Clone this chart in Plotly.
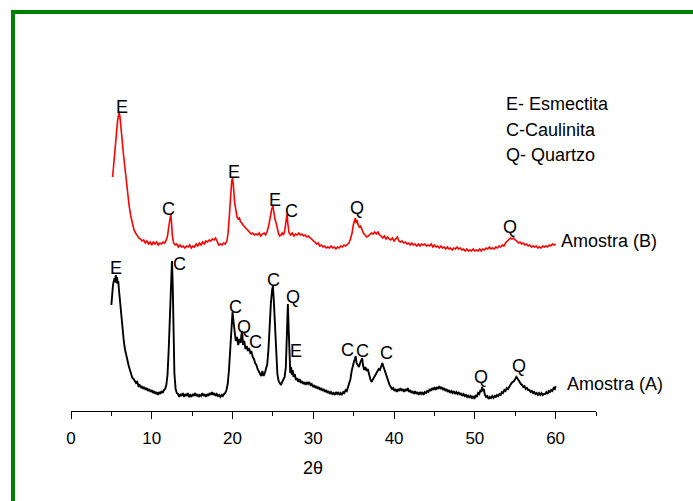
import plotly.graph_objects as go

# ---- data: 2-theta (deg) and relative intensity (arbitrary units, offset per sample) ----
amostra_a_points = [
    (5.0,104),(5.1,116),(5.2,124),(5.3,128),(5.4,131),(5.47,127),(5.55,134),(5.62,126),(5.7,132),(5.78,125),
    (5.85,128),(5.95,118),(6.1,104),(6.25,90),(6.4,77),(6.55,67),(6.7,59),(6.85,53),(7.0,47),(7.15,43),
    (7.3,39),(7.45,35),(7.6,31),(7.75,30),(7.9,27),(8.05,26),(8.2,27),(8.35,23),(8.5,24),(8.65,21),
    (8.8,23),(8.95,20),(9.1,22),(9.25,19),(9.4,21),(9.55,18),(9.7,20),(9.85,17),(10.0,19),(10.15,16),
    (10.3,18),(10.45,15),(10.6,17),(10.75,14),(10.9,17),(11.05,15),(11.2,18),(11.35,16),(11.5,19),(11.65,20),
    (11.8,24),(11.95,34),(12.1,60),(12.25,102),(12.4,140),(12.5,148),(12.6,122),(12.7,72),(12.8,36),(12.95,20),
    (13.1,16),(13.25,15),(13.4,12),(13.55,15),(13.7,13),(13.85,16),(14.0,12),(14.15,15),(14.3,13),(14.45,16),
    (14.6,12),(14.75,14),(14.9,12),(15.05,15),(15.2,13),(15.35,16),(15.5,13),(15.65,15),(15.8,12),(15.95,14),
    (16.1,13),(16.25,16),(16.4,13),(16.55,15),(16.7,12),(16.85,15),(17.0,13),(17.15,16),(17.3,14),(17.45,17),
    (17.6,14),(17.75,16),(17.9,13),(18.05,15),(18.2,13),(18.35,14),(18.5,12),(18.65,14),(18.8,13),(18.95,15),
    (19.1,16),(19.25,19),(19.4,25),(19.55,38),(19.7,60),(19.85,85),(20.0,97),(20.1,89),(20.25,75),(20.4,68),
    (20.55,72),(20.7,64),(20.85,70),(21.0,66),(21.1,74),(21.2,78),(21.3,64),(21.45,68),(21.6,60),(21.75,63),
    (21.9,58),(22.05,61),(22.2,56),(22.35,57),(22.5,52),(22.65,50),(22.8,46),(22.95,44),(23.1,40),(23.25,38),
    (23.4,36),(23.55,33),(23.7,38),(23.85,33),(24.0,36),(24.15,40),(24.3,45),(24.45,60),(24.6,85),(24.75,106),
    (24.9,119),(25.0,123),(25.1,110),(25.25,80),(25.4,50),(25.55,35),(25.7,28),(25.85,25),(26.0,24),(26.15,27),
    (26.3,30),(26.45,32),(26.6,42),(26.75,78),(26.85,105),(26.95,80),(27.05,40),(27.15,36),(27.25,42),(27.35,34),
    (27.45,39),(27.55,32),(27.7,35),(27.85,29),(28.0,31),(28.15,27),(28.3,30),(28.45,26),(28.6,28),(28.75,25),
    (28.9,27),(29.05,24),(29.2,27),(29.35,25),(29.5,27),(29.65,24),(29.8,25),(29.95,22),(30.1,24),(30.25,21),
    (30.4,23),(30.55,20),(30.7,22),(30.85,19),(31.0,21),(31.15,18),(31.3,20),(31.45,17),(31.6,19),(31.75,16),
    (31.9,18),(32.05,15),(32.2,17),(32.35,15),(32.5,16),(32.65,14),(32.8,17),(32.95,15),(33.1,17),(33.25,14),
    (33.4,16),(33.55,14),(33.7,17),(33.85,16),(34.0,19),(34.15,18),(34.3,22),(34.45,25),(34.6,30),(34.75,38),
    (34.9,45),(35.05,48),(35.15,50),(35.25,53),(35.35,46),(35.5,44),(35.65,42),(35.8,46),(35.95,50),(36.05,51),
    (36.15,44),(36.3,39),(36.45,42),(36.6,38),(36.75,40),(36.9,34),(37.05,30),(37.2,27),(37.35,29),(37.5,32),
    (37.65,34),(37.8,36),(37.95,38),(38.1,40),(38.25,39),(38.4,44),(38.55,46),(38.7,42),(38.85,38),(39.0,34),
    (39.15,30),(39.3,28),(39.45,24),(39.6,22),(39.75,20),(39.9,21),(40.05,18),(40.2,20),(40.35,17),(40.5,20),
    (40.65,18),(40.8,21),(40.95,18),(41.1,20),(41.25,17),(41.4,20),(41.55,18),(41.7,21),(41.85,17),(42.0,19),
    (42.15,16),(42.3,18),(42.45,15),(42.6,18),(42.75,15),(42.9,17),(43.05,14),(43.2,17),(43.35,15),(43.5,17),
    (43.65,14),(43.8,17),(43.95,16),(44.1,18),(44.25,17),(44.4,20),(44.55,18),(44.7,21),(44.85,19),(45.0,22),
    (45.15,19),(45.3,22),(45.45,20),(45.6,23),(45.75,20),(45.9,22),(46.05,19),(46.2,21),(46.35,18),(46.5,20),
    (46.65,17),(46.8,19),(46.95,16),(47.1,18),(47.25,16),(47.4,18),(47.55,15),(47.7,17),(47.85,15),(48.0,17),
    (48.15,14),(48.3,16),(48.45,13),(48.6,15),(48.75,13),(48.9,14),(49.05,12),(49.2,14),(49.35,11),(49.5,13),
    (49.65,11),(49.8,13),(49.95,10),(50.1,14),(50.25,12),(50.4,16),(50.55,15),(50.7,19),(50.8,17),(50.9,22),
    (51.0,18),(51.1,20),(51.25,14),(51.4,12),(51.55,13),(51.7,10),(51.85,12),(52.0,11),(52.15,13),(52.3,11),
    (52.45,13),(52.6,12),(52.75,14),(52.9,13),(53.05,15),(53.2,14),(53.35,17),(53.5,16),(53.65,19),(53.8,18),
    (53.95,21),(54.1,20),(54.25,23),(54.4,24),(54.55,26),(54.7,27),(54.85,28),(55.0,30),(55.15,32),(55.25,31),
    (55.4,28),(55.55,27),(55.7,25),(55.85,24),(56.0,22),(56.15,23),(56.3,20),(56.45,21),(56.6,19),(56.75,19),
    (56.9,17),(57.05,18),(57.2,16),(57.35,17),(57.5,15),(57.65,16),(57.8,14),(57.95,16),(58.1,14),(58.25,16),
    (58.4,14),(58.55,15),(58.7,15),(58.85,17),(59.0,15),(59.15,18),(59.3,17),(59.45,19),(59.6,18),(59.75,21),
    (59.9,20),(60.0,23),
]

amostra_b_points = [
    (5.15,232),(5.3,247),(5.45,262),(5.6,276),(5.75,287),(5.85,292),(5.95,296),(6.05,293),(6.15,286),(6.3,272),
    (6.45,258),(6.6,246),(6.75,233),(6.9,222),(7.05,212),(7.2,203),(7.4,193),(7.6,185),(7.8,179),(8.0,176),
    (8.2,173),(8.4,171),(8.6,170),(8.8,168),(9.0,169),(9.2,166),(9.4,168),(9.6,165),(9.8,167),(10.0,164),
    (10.2,167),(10.4,165),(10.6,167),(10.8,164),(11.0,166),(11.2,165),(11.4,167),(11.6,166),(11.8,169),(11.95,173),
    (12.1,182),(12.25,193),(12.35,195),(12.45,186),(12.55,173),(12.7,166),(12.9,164),(13.1,165),(13.3,162),(13.5,164),
    (13.7,162),(13.9,163),(14.1,161),(14.3,163),(14.5,162),(14.7,164),(14.9,161),(15.1,163),(15.3,162),(15.5,165),
    (15.7,163),(15.9,166),(16.1,164),(16.3,167),(16.5,165),(16.7,168),(16.9,167),(17.1,169),(17.3,168),(17.5,170),
    (17.7,169),(17.9,171),(18.0,169),(18.15,166),(18.3,164),(18.5,165),(18.7,164),(18.9,166),(19.1,165),(19.3,168),
    (19.45,176),(19.6,193),(19.75,215),(19.9,228),(20.0,231),(20.1,224),(20.25,207),(20.4,197),(20.55,192),(20.7,190),
    (20.85,191),(21.0,187),(21.15,186),(21.3,184),(21.5,182),(21.7,180),(21.9,178),(22.1,177),(22.3,175),(22.5,176),
    (22.7,174),(22.9,175),(23.1,174),(23.3,176),(23.5,173),(23.7,175),(23.9,176),(24.1,174),(24.3,178),(24.5,184),
    (24.7,194),(24.85,200),(25.0,203),(25.1,197),(25.25,190),(25.4,186),(25.55,180),(25.7,175),(25.85,173),(26.0,174),
    (26.15,176),(26.3,174),(26.45,178),(26.6,186),(26.75,195),(26.85,185),(27.0,176),(27.2,174),(27.4,176),(27.6,173),
    (27.8,175),(28.0,174),(28.2,176),(28.4,174),(28.6,175),(28.8,173),(29.0,174),(29.2,172),(29.4,173),(29.6,171),
    (29.8,170),(30.0,168),(30.2,167),(30.4,165),(30.6,166),(30.8,163),(31.0,164),(31.2,162),(31.4,163),(31.6,161),
    (31.8,162),(32.0,161),(32.2,163),(32.4,161),(32.6,162),(32.8,160),(33.0,162),(33.2,161),(33.4,163),(33.6,162),
    (33.8,164),(34.0,163),(34.2,165),(34.4,166),(34.6,170),(34.8,176),(34.95,184),(35.1,188),(35.2,191),(35.3,186),
    (35.4,189),(35.55,184),(35.7,182),(35.85,183),(36.0,180),(36.2,176),(36.4,174),(36.6,172),(36.8,173),(37.0,175),
    (37.2,176),(37.4,175),(37.6,177),(37.8,175),(38.0,177),(38.2,174),(38.4,173),(38.6,171),(38.8,173),(39.0,170),
    (39.2,172),(39.4,170),(39.6,169),(39.8,171),(40.0,168),(40.2,170),(40.4,172),(40.6,168),(40.8,167),(41.0,168),
    (41.2,166),(41.4,167),(41.6,165),(41.8,166),(42.0,164),(42.2,166),(42.4,164),(42.6,165),(42.8,163),(43.0,165),
    (43.2,163),(43.4,165),(43.6,164),(43.8,165),(44.0,163),(44.2,164),(44.4,163),(44.6,165),(44.8,162),(45.0,164),
    (45.2,162),(45.4,163),(45.6,161),(45.8,163),(46.0,161),(46.2,162),(46.4,160),(46.6,162),(46.8,160),(47.0,161),
    (47.2,159),(47.4,161),(47.6,160),(47.8,162),(48.0,160),(48.2,161),(48.4,159),(48.6,160),(48.8,158),(49.0,160),
    (49.2,158),(49.4,159),(49.6,158),(49.8,160),(50.0,158),(50.2,159),(50.4,158),(50.6,160),(50.8,158),(51.0,160),
    (51.2,159),(51.4,161),(51.6,160),(51.8,162),(52.0,160),(52.2,161),(52.4,160),(52.6,162),(52.8,161),(53.0,163),
    (53.2,162),(53.4,164),(53.6,163),(53.8,166),(54.0,168),(54.2,170),(54.4,171),(54.6,170),(54.8,171),(55.0,169),
    (55.2,168),(55.4,166),(55.6,167),(55.8,165),(56.0,166),(56.2,164),(56.4,165),(56.6,163),(56.8,164),(57.0,162),
    (57.2,163),(57.4,162),(57.6,163),(57.8,161),(58.0,162),(58.2,161),(58.4,163),(58.6,162),(58.8,163),(59.0,162),
    (59.2,164),(59.4,163),(59.6,165),(59.8,164),(60.0,165),
]

tth_a = [p[0] for p in amostra_a_points]
int_a = [p[1] for p in amostra_a_points]
tth_b = [p[0] for p in amostra_b_points]
int_b = [p[1] for p in amostra_b_points]

# peak labels: (2theta, intensity, letter)
labels_b = [(6.34, 301.7, "E"), (12.04, 200, "C"), (20.22, 237.3, "E"), (25.27, 209, "E"),
            (27.34, 198, "C"), (35.46, 200.7, "Q"), (54.39, 182.3, "Q")]
labels_a = [(5.53, 140.7, "E"), (13.41, 145, "C"), (20.31, 101.7, "C"), (21.42, 81.7, "Q"),
            (22.79, 67.3, "C"), (25.06, 129, "C"), (27.53, 111.7, "Q"), (27.87, 58, "E"),
            (34.23, 59, "C"), (36.13, 58.3, "C"), (39.02, 55.7, "C"), (50.76, 32.3, "Q"),
            (55.41, 43, "Q")]
series_labels = [(60.45, 168, "Amostra (B)"), (61.15, 25.5, "Amostra (A)")]
key_labels = [(53.6, 305, "E- Esmectita"), (53.6, 279, "C-Caulinita"), (53.6, 254, "Q- Quartzo")]
x_ticks = [0, 10, 20, 30, 40, 50, 60]
x_title = "2θ"

FONT = "Arial, Liberation Sans, sans-serif"

fig = go.Figure()
fig.add_trace(go.Scatter(x=tth_a, y=int_a, mode="lines",
                         line=dict(color="black", width=1.9), showlegend=False))
fig.add_trace(go.Scatter(x=tth_b, y=int_b, mode="lines",
                         line=dict(color="#ff0000", width=1.6), showlegend=False))

annotations = []
for x, y, t in labels_a + labels_b:
    annotations.append(dict(x=x, y=y, xref="x", yref="y", text=t, showarrow=False,
                            font=dict(size=18, color="black", family=FONT),
                            xanchor="center", yanchor="middle"))
for x, y, t in series_labels + key_labels:
    annotations.append(dict(x=x, y=y, xref="x", yref="y", text=t, showarrow=False,
                            font=dict(size=18, color="black", family=FONT),
                            xanchor="left", yanchor="middle"))

# plot-area geometry in pixels (for the green frame)
L, R, T, B = 71, 693 - 595.6, 20, 501 - 411
pw, ph = 693 - L - R, 501 - T - B
def px(x): return (x - L) / pw
def py(y): return (501 - B - y) / ph

# axis title, centred under 30
annotations.append(dict(x=30, y=py(468), xref="x", yref="paper", text=x_title, showarrow=False,
                        font=dict(size=18, color="black", family=FONT),
                        xanchor="center", yanchor="middle"))

shapes = [
    dict(type="rect", xref="paper", yref="paper", x0=px(11), x1=px(700), y0=py(14), y1=py(10),
         fillcolor="#008000", line=dict(width=0), layer="above"),
    dict(type="rect", xref="paper", yref="paper", x0=px(11), x1=px(15), y0=py(510), y1=py(10),
         fillcolor="#008000", line=dict(width=0), layer="above"),
]

fig.update_layout(
    width=693, height=501,
    margin=dict(l=L, r=R, t=T, b=B, pad=0),
    paper_bgcolor="white", plot_bgcolor="white",
    annotations=annotations, shapes=shapes,
    font=dict(family=FONT, size=17, color="black"),
    xaxis=dict(range=[0, 65], tickvals=x_ticks, ticktext=[str(v) for v in x_ticks],
               showgrid=False, zeroline=False, showline=True, linecolor="black", linewidth=1.2,
               ticks="outside", ticklen=7, tickwidth=1.2, tickcolor="black",
               minor=dict(dtick=5, tick0=0, ticks="outside", ticklen=4, tickwidth=1.2, tickcolor="black"),
               tickfont=dict(size=17, family=FONT, color="black"), ticklabelstandoff=4),
    yaxis=dict(range=[-2, 389], visible=False, showgrid=False, zeroline=False),
)

fig.write_html("out.html")
